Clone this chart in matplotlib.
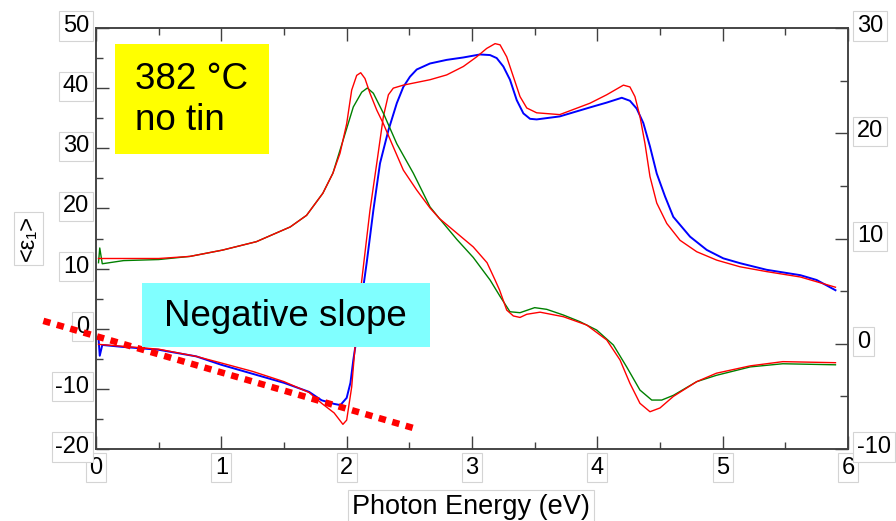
import numpy as np
import matplotlib
matplotlib.use('Agg')
import matplotlib.pyplot as plt
from matplotlib.patches import Rectangle
from matplotlib.transforms import ScaledTranslation
from matplotlib.ticker import MultipleLocator

plt.rcParams['font.family'] = ['Liberation Sans', 'DejaVu Sans']
plt.rcParams['axes.unicode_minus'] = False

# <eps1> measured (blue) and model (red), left axis
e1_meas_x = [0.02, 0.03, 0.05, 0.2, 0.5, 0.8, 1.0, 1.25, 1.5, 1.7, 1.8, 1.9, 1.95, 2.0, 2.03,
             2.053, 2.093, 2.13, 2.16, 2.213, 2.266, 2.333, 2.40, 2.452, 2.505, 2.559, 2.665,
             2.798, 2.931, 3.064, 3.144, 3.197, 3.25, 3.303, 3.357, 3.41, 3.463, 3.516, 3.70,
             3.942, 4.075, 4.195, 4.26, 4.314, 4.367, 4.42, 4.474, 4.54, 4.606, 4.74, 4.873,
             5.005, 5.138, 5.35, 5.62, 5.75, 5.90]
e1_meas = [-1.5, -4.5, -2.7, -3.0, -3.5, -4.6, -6.0, -7.5, -9.0, -10.5, -11.9, -12.5, -12.7, -11.5, -9.0,
           -5.2, 0.3, 6.5, 11.0, 19.7, 27.5, 33.0, 37.5, 40.2, 41.9, 43.1, 44.1,
           44.7, 45.1, 45.6, 45.5, 45.0, 43.6, 41.4, 38.0, 35.8, 34.9, 34.8, 35.3,
           36.8, 37.6, 38.4, 37.9, 36.6, 34.2, 30.3, 25.8, 22.0, 18.6, 15.3, 13.1,
           11.7, 10.9, 9.8, 8.9, 8.1, 6.4]

e1_fit_x = [0.02, 0.2, 0.5, 0.8, 1.0, 1.25, 1.5, 1.7, 1.8, 1.9, 1.97, 2.0, 2.04, 2.075, 2.12,
            2.186, 2.24, 2.293, 2.333, 2.372, 2.452, 2.665, 2.798, 2.931, 3.037, 3.117, 3.184,
            3.224, 3.277, 3.33, 3.383, 3.437, 3.516, 3.70, 3.942, 4.075, 4.208, 4.26, 4.30,
            4.34, 4.38, 4.42, 4.474, 4.554, 4.66, 4.793, 4.953, 5.138, 5.35, 5.62, 5.90]
e1_fit = [-2.6, -2.9, -3.4, -4.6, -5.7, -7.1, -8.8, -10.6, -12.4, -14.0, -15.9, -15.2, -9.7, -1.0, 8.0,
          19.7, 27.5, 35.3, 38.9, 40.0, 40.5, 41.4, 42.2, 43.6, 45.2, 46.6, 47.4,
          47.2, 45.2, 41.9, 38.6, 36.7, 35.9, 35.6, 37.5, 38.9, 40.5, 40.2, 38.6,
          35.3, 30.8, 25.3, 20.9, 17.5, 14.7, 12.8, 11.4, 10.3, 9.5, 8.6, 6.9]

# <eps2> measured (green) and model (red), right axis
e2_meas_x = [0.02, 0.03, 0.05, 0.22, 0.5, 0.75, 1.01, 1.28, 1.55, 1.68, 1.81, 1.89, 1.973, 2.053,
             2.12, 2.165, 2.213, 2.293, 2.40, 2.532, 2.665, 2.74, 2.88, 3.01, 3.144, 3.224, 3.303,
             3.383, 3.50, 3.596, 3.729, 3.861, 3.995, 4.128, 4.234, 4.34, 4.434, 4.514, 4.607,
             4.793, 4.95, 5.22, 5.48, 5.90]
e2_meas = [7.7, 9.1, 7.6, 7.9, 8.0, 8.3, 8.9, 9.7, 11.1, 12.2, 14.3, 16.2, 19.4, 22.5,
           23.9, 24.3, 23.8, 21.9, 19.0, 16.2, 13.0, 11.9, 9.9, 8.2, 6.06, 4.5, 3.04,
           2.95, 3.43, 3.27, 2.73, 2.1, 1.3, -0.12, -2.2, -4.4, -5.35, -5.35, -4.9,
           -3.6, -3.0, -2.2, -1.9, -2.0]

e2_fit_x = [0.02, 0.22, 0.5, 0.75, 1.01, 1.28, 1.55, 1.68, 1.81, 1.89, 1.947, 2.0, 2.04, 2.08,
            2.112, 2.146, 2.186, 2.24, 2.293, 2.372, 2.452, 2.559, 2.665, 2.74, 2.88, 3.01, 3.12,
            3.184, 3.22, 3.277, 3.33, 3.383, 3.437, 3.543, 3.729, 3.915, 4.075, 4.181, 4.26,
            4.34, 4.42, 4.50, 4.607, 4.793, 4.95, 5.22, 5.48, 5.90]
e2_fit = [8.1, 8.1, 8.1, 8.3, 8.9, 9.7, 11.1, 12.2, 14.3, 16.2, 18.1, 20.9, 24.1, 25.5,
          25.75, 25.2, 23.8, 22.2, 20.9, 18.7, 16.5, 14.6, 12.9, 11.9, 10.5, 9.2, 7.7,
          6.06, 5.1, 3.2, 2.64, 2.5, 2.8, 3.0, 2.57, 1.78, 0.36, -1.54, -3.76,
          -5.66, -6.46, -6.1, -5.0, -3.6, -2.8, -2.1, -1.7, -1.8]

# guide line for the low-energy slope of <eps1>
slope_x = [-0.42, 2.53]
slope_y = [1.3, -16.5]

W, H = 896, 521
fig = plt.figure(figsize=(W / 100, H / 100), dpi=100)
ax = fig.add_axes([96 / W, 1 - 449 / H, 752 / W, 421 / H])
ax2 = ax.twinx()

ax.plot(e1_meas_x, e1_meas, color='#0000FF', linewidth=1.4, zorder=3)
ax.plot(e1_fit_x, e1_fit, color='#FF0000', linewidth=1.0, zorder=4)
ax2.plot(e2_meas_x, e2_meas, color='#008000', linewidth=1.0, zorder=3)
ax2.plot(e2_fit_x, e2_fit, color='#FF0000', linewidth=1.0, zorder=4)

ax.plot(slope_x, slope_y, color='#FF0000', linewidth=4.7, dashes=(1.12, 1.02),
        dash_capstyle='butt', clip_on=False, zorder=5)

ax.set_xlim(0, 6)
ax.set_ylim(-20, 50)
ax2.set_ylim(-10, 30)

ax.xaxis.set_major_locator(MultipleLocator(1))
ax.xaxis.set_minor_locator(MultipleLocator(0.5))
ax.yaxis.set_major_locator(MultipleLocator(10))
ax.yaxis.set_minor_locator(MultipleLocator(5))
ax2.yaxis.set_major_locator(MultipleLocator(10))
ax2.yaxis.set_minor_locator(MultipleLocator(5))

for a in (ax, ax2):
    for s in a.spines.values():
        s.set_color('#404040')
        s.set_linewidth(1.1)

ax.tick_params(which='both', direction='in', top=True, right=False, colors='#404040', width=1.0)
ax.tick_params(which='major', length=9.5)
ax.tick_params(which='minor', length=5)
ax.tick_params(axis='x', labelsize=17, pad=5.4, labelcolor='black')
ax.tick_params(axis='y', labelsize=17, pad=5, labelcolor='black')
ax2.tick_params(which='both', direction='in', colors='#404040', width=1.0)
ax2.tick_params(which='major', length=9.5)
ax2.tick_params(which='minor', length=5.5)
ax2.tick_params(axis='y', labelsize=17, pad=6.5, labelcolor='black')

box = dict(boxstyle='square,pad=0.15', facecolor='white', edgecolor='#d4d4d4', linewidth=0.8)

ax.set_xlabel('Photon Energy (eV)', fontsize=19.5, bbox=box)
ax.xaxis.label.set_va('center')
ax.xaxis.set_label_coords(0.4987, -0.138)
ax.set_ylabel('<ε\u2081>', fontsize=17, bbox=box)
ax.yaxis.label.set_va('center')
ax.yaxis.set_label_coords(-0.09, 0.501)

# annotation boxes
fig.add_artist(Rectangle((115 / W, 1 - 154 / H), 154 / W, 110 / H, transform=fig.transFigure,
                         facecolor='#FFFF00', edgecolor='none', zorder=2))
fig.text(135 / W, 1 - 100 / H, '382 °C\nno tin', fontsize=26.5, ha='left', va='center',
         linespacing=1.25, zorder=3)
fig.add_artist(Rectangle((142 / W, 1 - 347 / H), 288 / W, 64 / H, transform=fig.transFigure,
                         facecolor='#80FFFF', edgecolor='none', zorder=2))
fig.text(285 / W, 1 - 316 / H, 'Negative slope', fontsize=26.5, ha='center', va='center', zorder=3)

fig.canvas.draw()
lift = ScaledTranslation(0, 4.5 / 100, fig.dpi_scale_trans)
for lab in ax.get_xticklabels() + ax.get_yticklabels() + ax2.get_yticklabels():
    lab.set_bbox(box)
for lab in ax.get_yticklabels() + ax2.get_yticklabels():
    lab.set_transform(lab.get_transform() + lift)

plt.savefig('out.png', dpi=100)
